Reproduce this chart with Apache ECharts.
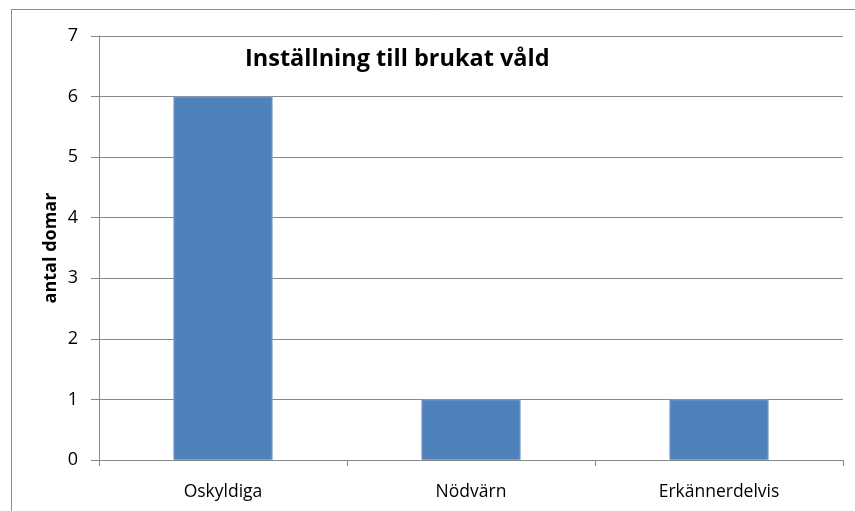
<!DOCTYPE html>
<html>
<head>
<meta charset="utf-8">
<script src="https://cdn.jsdelivr.net/npm/echarts@6/dist/echarts.min.js"></script>
<style>
  html, body { margin: 0; padding: 0; background: #fff; }
  #chart { width: 855px; height: 511px; }
</style>
</head>
<body>
<div id="chart"></div>
<script>
// Inställning till brukat våld
var categories = ['Oskyldiga', 'Nödvärn', 'Erkännerdelvis'];
var values = [6, 1, 1];
var yTicks = [0, 1, 2, 3, 4, 5, 6, 7];

var myChart = echarts.init(document.getElementById('chart'));
var option = {
  animation: false,
  graphic: [{
    type: 'rect',
    shape: { x: 11.5, y: 9.5, width: 860, height: 520 },
    style: { fill: 'none', stroke: '#8c8c8c', lineWidth: 1 },
    silent: true
  }],
  title: {
    text: 'Inställning till brukat våld',
    left: 240,
    top: 42,
    textStyle: { fontFamily: 'Open Sans', fontWeight: 'bold', fontSize: 23.5, color: '#000' }
  },
  grid: { left: 99, right: 12, top: 36, bottom: 51 },
  xAxis: {
    type: 'category',
    data: categories,
    axisLine: { lineStyle: { color: '#888', width: 1 } },
    axisTick: { show: true, length: 6, alignWithLabel: false, lineStyle: { color: '#888' } },
    axisLabel: { color: '#000', fontFamily: 'Open Sans', fontSize: 17.5, margin: 23 }
  },
  yAxis: {
    type: 'value',
    min: yTicks[0],
    max: yTicks[yTicks.length - 1],
    interval: 1,
    name: 'antal domar',
    nameLocation: 'middle',
    nameGap: 39,
    nameMoveOverlap: false,
    nameTextStyle: { fontFamily: 'Open Sans', fontWeight: 'bold', fontSize: 18, color: '#000' },
    axisLine: { show: true, lineStyle: { color: '#888', width: 1 } },
    axisTick: { show: true, length: 8, lineStyle: { color: '#888' } },
    axisLabel: { color: '#000', fontFamily: 'Open Sans', fontSize: 18, margin: 21 },
    splitLine: { show: true, lineStyle: { color: '#888', width: 1 } }
  },
  series: [{
    type: 'bar',
    data: values,
    barWidth: '40%',
    itemStyle: { color: '#4f81bd', borderColor: '#7ea1cc', borderWidth: 1 }
  }]
};
myChart.setOption(option);
</script>
</body>
</html>
